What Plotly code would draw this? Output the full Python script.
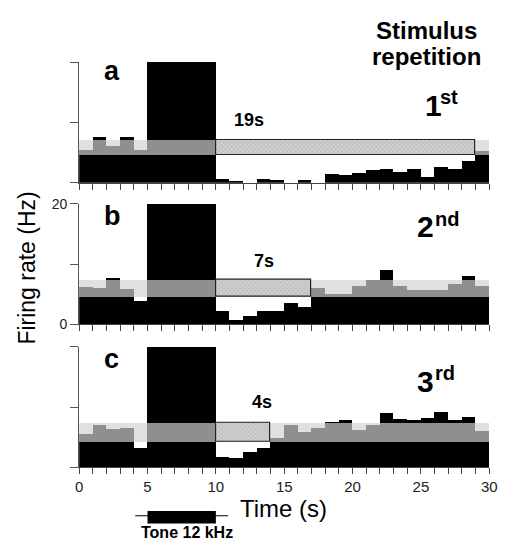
import plotly.graph_objects as go

# ---------------- data ----------------
bin_start = list(range(30))          # 1-s bins, seconds
panel_letters = ["a", "b", "c"]
ordinal_num = ["1", "2", "3"]
ordinal_suffix = ["st", "nd", "rd"]

rate_a = [5.4, 7.5, 6.0, 7.6, 5.4, 20, 20, 20, 20, 20,
          0.65, 0.25, 0.0, 0.6, 0.4, 0.0, 0.4, 0.0, 1.5, 1.35,
          1.55, 2.05, 2.2, 1.85, 2.35, 1.0, 2.55, 2.35, 3.6, 5.3]
rate_b = [6.3, 6.1, 7.7, 5.9, 4.0, 20, 20, 20, 20, 20,
          2.2, 0.75, 1.4, 2.35, 2.35, 3.65, 3.0, 6.0, 5.1, 5.1,
          6.35, 7.35, 9.1, 6.35, 5.7, 5.7, 5.7, 6.8, 8.1, 6.35]
rate_c = [5.5, 7.1, 6.35, 6.5, 3.3, 20, 20, 20, 20, 20,
          1.7, 1.5, 2.6, 3.3, 4.8, 7.0, 5.9, 6.6, 7.6, 7.8,
          6.2, 7.1, 9.05, 8.1, 7.8, 8.2, 9.2, 7.8, 8.45, 6.05]
rates = [rate_a, rate_b, rate_c]

band_low = [4.65, 4.55, 4.2]
band_high = [7.15, 7.4, 7.35]
inhibition_dur = [19, 7, 4]          # seconds
inhibition_text = ["19s", "7s", "4s"]
stim_on, stim_off = 5, 10            # tone 12 kHz
x_ticks = [0, 5, 10, 15, 20, 25, 30]

# ---------------- layout helpers ----------------
W, H = 508, 549
FONT = "Liberation Sans"


def px(x):
    return x / W


def py(y):
    return 1 - y / H


x_dom = [px(77), px(497)]
y_doms = [[py(180), py(55.7)], [py(326), py(201.7)], [py(473), py(349)]]

fig = go.Figure()

centers = [b + 0.5 for b in bin_start]
for i in range(3):
    xa, ya = f"x{i + 1}", f"y{i + 1}"
    lo, hi = band_low[i], band_high[i]
    r = rates[i]
    fig.add_bar(x=centers, y=r, base=0, width=1, xaxis=xa, yaxis=ya,
                marker=dict(color="black", line=dict(width=0)))
    fig.add_bar(x=centers, y=[hi - lo] * len(r), base=lo, width=1,
                xaxis=xa, yaxis=ya,
                marker=dict(color="#e0e0e0", line=dict(width=0)))
    fig.add_bar(x=centers, y=[max(0, min(v, hi) - lo) for v in r], base=lo,
                width=1, xaxis=xa, yaxis=ya,
                marker=dict(color="#8f8f8f", line=dict(width=0)))
    d = inhibition_dur[i]
    fig.add_bar(x=[stim_off + d / 2], y=[hi - lo], base=lo, width=[d],
                xaxis=xa, yaxis=ya,
                marker=dict(color="#cccccc",
                            pattern=dict(shape="x", size=3, solidity=0.3,
                                         fgcolor="#8a8a8a", bgcolor="#d0d0d0"),
                            line=dict(color="#222", width=1.2)))

layout = dict(width=W, height=H, margin=dict(l=0, r=0, t=0, b=0),
              paper_bgcolor="white", plot_bgcolor="rgba(0,0,0,0)",
              showlegend=False, barmode="overlay", bargap=0,
              font=dict(family=FONT, color="#222"))
for i in range(3):
    k = "" if i == 0 else str(i + 1)
    layout[f"xaxis{k}"] = dict(
        domain=x_dom, range=[0, 30], anchor=f"y{i + 1}",
        showline=True, linecolor="#444", linewidth=1,
        ticks="outside", ticklen=6, tickcolor="#444", tickwidth=1,
        tickvals=x_ticks, showticklabels=(i == 2),
        tickfont=dict(size=15, color="#222", family=FONT),
        minor=dict(dtick=1, ticks="outside", ticklen=6, tickcolor="#444"),
        showgrid=False, zeroline=False, fixedrange=True)
    layout[f"yaxis{k}"] = dict(
        domain=y_doms[i], range=[0, 20], anchor=f"x{i + 1}",
        showline=True, linecolor="#555", linewidth=1,
        ticks="outside", ticklen=8, tickcolor="#555",
        tickvals=[0, 20],
        minor=dict(tickvals=[10], ticks="outside", ticklen=8,
                   tickcolor="#555"),
        showticklabels=(i == 1),
        tickfont=dict(size=14, color="#222", family=FONT),
        showgrid=False, zeroline=False, fixedrange=True)
fig.update_layout(**layout)


def label(text, x, baseline, size, xanchor="left", bold=True):
    bottom = baseline + 0.212 * size + 1
    return dict(text=f"<b>{text}</b>" if bold else text,
                x=px(x), y=py(bottom), xref="paper", yref="paper",
                xanchor=xanchor, yanchor="bottom", showarrow=False,
                font=dict(family=FONT, size=size, color="black"))


anns = [
    label("Stimulus", 433, 33, 24, "center"),
    label("repetition", 433, 60, 24, "center"),
    label("Time (s)", 286, 525, 24, "center", bold=False),
    label("Tone 12 kHz", 187, 547, 16, "center"),
]
letter_base = [76, 225, 372]
ord_base = [112, 237, 396]
ord_x = [429, 421, 421]
suffix_x = [444, 439, 439]
dur_base = [123, 268, 413]
dur_x = [234, 254, 252]
for i in range(3):
    anns.append(label(panel_letters[i], 100, letter_base[i], 27))
    anns.append(label(ordinal_num[i], ord_x[i], ord_base[i], 30))
    anns.append(label(ordinal_suffix[i], suffix_x[i], ord_base[i] - 12, 20))
    anns.append(label(inhibition_text[i], dur_x[i], dur_base[i], 18))
anns.append(dict(text="Firing rate (Hz)", x=px(24), y=py(268), xref="paper",
                 yref="paper", xanchor="center", yanchor="middle",
                 textangle=-90, showarrow=False,
                 font=dict(family=FONT, size=23, color="black")))
fig.update_layout(annotations=anns)

# tone marker under the time axis
fig.add_shape(type="line", xref="x3", yref="paper",
              x0=stim_on - 0.9, x1=stim_off + 0.9, y0=py(523), y1=py(523),
              line=dict(color="black", width=1))
fig.add_shape(type="rect", xref="x3", yref="paper",
              x0=stim_on, x1=stim_off, y0=py(531), y1=py(518),
              fillcolor="black", line=dict(width=0))

fig.write_html("out.html")
